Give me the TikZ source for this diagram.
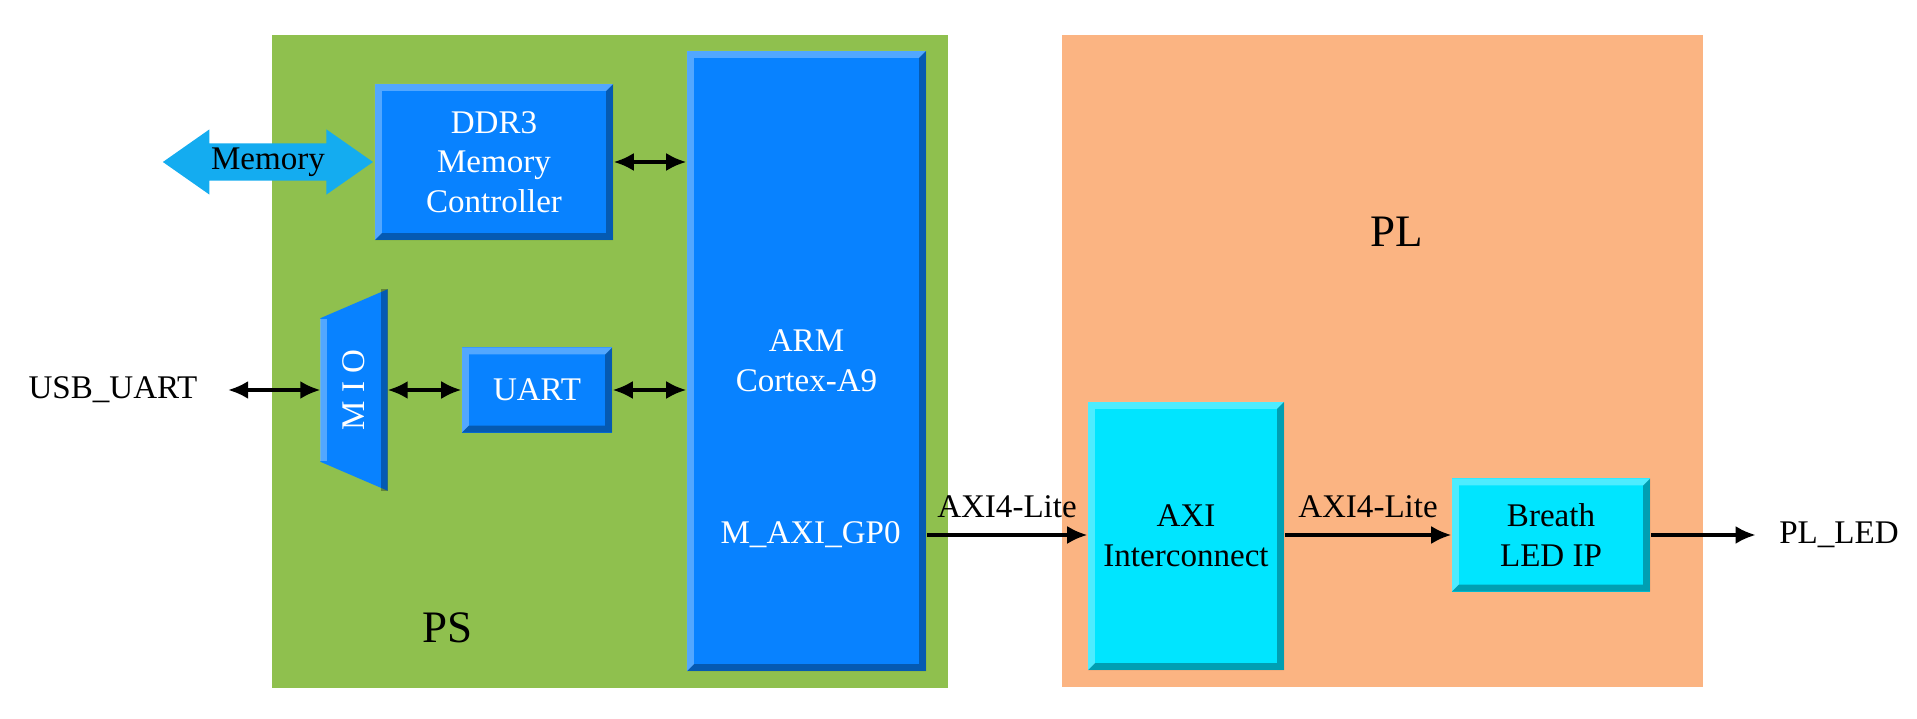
\documentclass[tikz,border=0pt]{standalone}
\usepackage{fontspec}
\setmainfont{Liberation Serif}
\usetikzlibrary{arrows.meta,positioning,shapes.arrows}
\pgfdeclarelayer{back}
\pgfdeclarelayer{mid}
\pgfsetlayers{back,mid,main}
\definecolor{psgreen}{RGB}{143,192,78}
\definecolor{plorange}{RGB}{251,180,130}
\definecolor{armblue}{RGB}{8,130,255}
\definecolor{ipcyan}{RGB}{0,229,255}
\definecolor{memblue}{RGB}{20,172,240}
\tikzset{
  txt/.style={font=\fontsize{9.4pt}{11.3pt}\selectfont, align=center},
  bigtxt/.style={font=\fontsize{12.8pt}{15pt}\selectfont},
  region/.style={inner sep=0pt, anchor=north west},
  bevel/.style={path picture={
    \fill[black,opacity=0.3] (path picture bounding box.south west) -- (path picture bounding box.south east)
      -- (path picture bounding box.north east) -- ([shift={(-0.07cm,-0.07cm)}]path picture bounding box.north east)
      -- ([shift={(-0.07cm,0.07cm)}]path picture bounding box.south east) -- ([shift={(0.07cm,0.07cm)}]path picture bounding box.south west) -- cycle;
    \fill[white,opacity=0.3] (path picture bounding box.south west) -- (path picture bounding box.north west)
      -- (path picture bounding box.north east) -- ([shift={(-0.07cm,-0.07cm)}]path picture bounding box.north east)
      -- ([shift={(0.07cm,-0.07cm)}]path picture bounding box.north west) -- ([shift={(0.07cm,0.07cm)}]path picture bounding box.south west) -- cycle;
  }},
  psblock/.style={txt, fill=armblue, text=white, bevel, inner sep=0pt},
  plblock/.style={txt, fill=ipcyan, text=black, bevel, inner sep=0pt},
  link/.style={line width=0.9pt, -{Latex[length=0.2cm,width=0.18cm]}},
  biarrow/.style={line width=0.9pt, {Latex[length=0.2cm,width=0.18cm]}-{Latex[length=0.2cm,width=0.18cm]}},
  bus/.style={txt, above=0.04cm}
}
\begin{document}
\begin{tikzpicture}[x=0.01cm,y=-0.01cm]
\useasboundingbox (0,0) rectangle (1917,719);
\begin{pgfonlayer}{back}
\node[region, fill=psgreen, minimum width=6.76cm, minimum height=6.53cm] (ps) at (271,34) {};
\node[region, fill=plorange, minimum width=6.41cm, minimum height=6.52cm] (pl) at (1061,34) {};
\end{pgfonlayer}
\node[bigtxt] (pslabel) at (448,628) {PS};
\node[bigtxt] (pllabel) at (1397,232) {PL};

\node[psblock, minimum width=2.39cm, minimum height=6.20cm] (arm) at (806.5,361) {ARM\\Cortex-A9};
\node[txt, text=white, anchor=east] (gp0) at (913,535) {M\_AXI\_GP0};
\node[psblock, minimum width=2.38cm, minimum height=1.56cm] (ddr) at (494,162) {DDR3\\Memory\\Controller};
\node[psblock, minimum width=1.50cm, minimum height=0.85cm] (uart) at (537,390) {UART};
\node[txt, text=white, inner sep=0pt, minimum width=0.66cm, minimum height=2.0cm] (mio) at (354,390) {\rotatebox{90}{M I O}};
\begin{pgfonlayer}{mid}
\fill[armblue] ([yshift=-0.29cm]mio.north west) -- (mio.north east) -- (mio.south east) -- ([yshift=0.29cm]mio.south west) -- cycle;
\draw[white, opacity=0.3, line width=0.07cm] ([shift={(0.035cm,-0.3cm)}]mio.north west) -- ([shift={(0.035cm,0.3cm)}]mio.south west);
\draw[black, opacity=0.3, line width=0.07cm] ([xshift=-0.035cm]mio.north east) -- ([xshift=-0.035cm]mio.south east);
\end{pgfonlayer}
\node[txt, double arrow, fill=memblue, double arrow tip angle=70, double arrow head extend=0.14cm,
  minimum height=2.10cm, inner xsep=0pt, inner ysep=0.035cm, left=0pt of ddr] (mem) {Memory};
\node[txt, inner xsep=0.3cm, inner ysep=0pt] (usb) at (113,390) {USB\_UART};

\node[plblock, minimum width=1.96cm, minimum height=2.68cm] (axi) at (1186,536) {AXI\\Interconnect};
\node[plblock, minimum width=1.98cm, minimum height=1.13cm] (led) at (1551,535) {Breath\\LED IP};
\node[txt, inner xsep=0.23cm] (plled) at (1839,535) {PL\_LED};

\draw[biarrow] (ddr.east) -- (arm.west |- ddr.east);
\draw[biarrow] (uart.east) -- (arm.west |- uart.east);
\draw[biarrow] (mio.east) -- (uart.west);
\draw[biarrow] (usb.east) -- (mio.west);
\draw[link] (arm.east |- gp0.east) -- node[bus] {AXI4-Lite} (axi.west |- gp0.east);
\draw[link] (axi.east |- led.west) -- node[bus] {AXI4-Lite} (led.west);
\draw[link] (led.east) -- (plled.west);
\end{tikzpicture}
\end{document}
